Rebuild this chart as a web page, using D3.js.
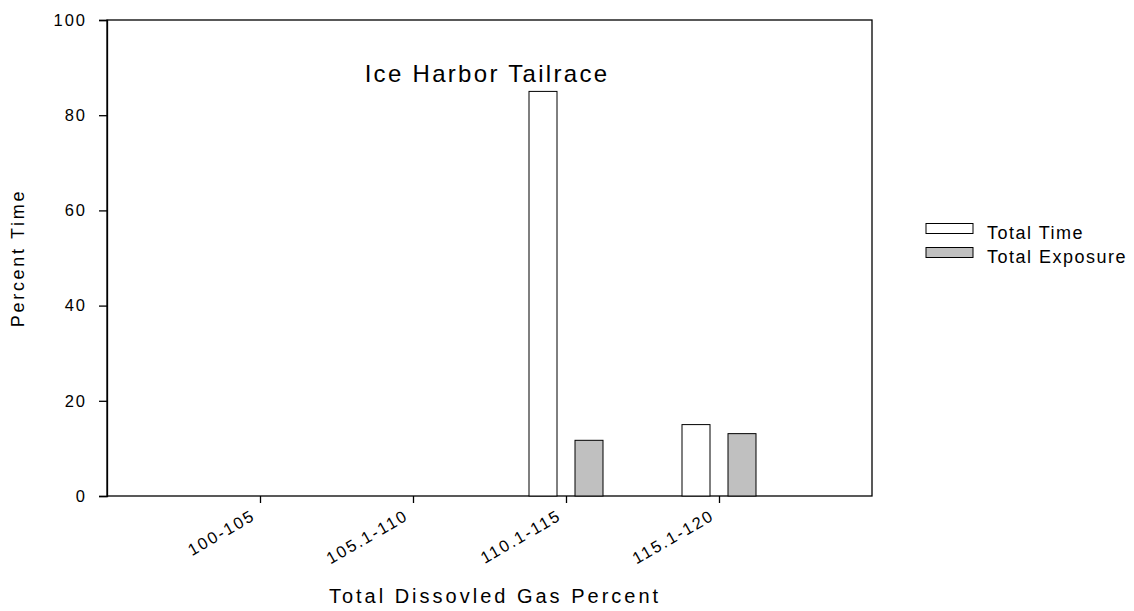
<!DOCTYPE html>
<html><head><meta charset="utf-8">
<script src="https://cdn.jsdelivr.net/npm/d3@7"></script>
<style>body{margin:0;background:#fff;} text{font-family:Arial,"Liberation Sans",sans-serif;}</style>
</head><body><svg id="c" width="1134" height="611"></svg>
<script>
const categories = ["100-105","105.1-110","110.1-115","115.1-120"];
const totalTime = [0, 0, 85, 15];
const totalExposure = [0, 0, 11.7, 13.1];
const yTicks = [0,20,40,60,80,100];
const seriesNames = ["Total Time","Total Exposure"];
const seriesColors = ["#ffffff","#c0c0c0"];

const svg = d3.select("#c");
const L=107, R=872, T=20, B=496;
const x = d3.scalePoint().domain(categories).range([L,R]).padding(1);
const y = d3.scaleLinear().domain([0,100]).range([B,T]);

// frame
svg.append("rect").attr("x",L).attr("y",T).attr("width",R-L).attr("height",B-T)
  .attr("fill","none").attr("stroke","#000").attr("stroke-width",1.3);

const series = [totalTime,totalExposure];
const offs = [-23, 23], bw = 28;
series.forEach((s,si)=>{
  svg.append("g").selectAll("rect").data(categories.map((c,i)=>({c,v:s[i]})).filter(d=>d.v>0))
    .join("rect")
    .attr("x",d=>x(d.c)+offs[si]-bw/2).attr("width",bw)
    .attr("y",d=>y(d.v)).attr("height",d=>B-y(d.v))
    .attr("fill",seriesColors[si]).attr("stroke","#000").attr("stroke-width",1);
});

// y axis
const ya = svg.append("g").attr("transform",`translate(${L},0)`)
  .call(d3.axisLeft(y).tickValues(yTicks).tickSize(8).tickPadding(10));
ya.select(".domain").attr("stroke-width",1.3);
ya.selectAll("line").attr("stroke-width",1.3);
ya.selectAll("text").attr("font-size",16.5).attr("letter-spacing",2).attr("x",-20)
  .attr("font-family","Arial, Liberation Sans, sans-serif");

// x axis
const xa = svg.append("g").attr("transform",`translate(0,${B})`)
  .call(d3.axisBottom(x).tickSize(7).tickSizeOuter(0));
xa.select(".domain").remove();
xa.selectAll("line").attr("stroke-width",1.3);
xa.selectAll("text").attr("font-size",16.5).attr("letter-spacing",2)
  .attr("font-family","Arial, Liberation Sans, sans-serif")
  .attr("text-anchor","end").attr("dy",null).attr("y",0).attr("x",0)
  .attr("transform","translate(-4,23) rotate(-30)");

// title
svg.append("text").attr("x",487).attr("y",82).attr("text-anchor","middle")
  .attr("font-size",24).attr("letter-spacing",2.3).text("Ice Harbor Tailrace");

// axis titles
svg.append("text").attr("x",495).attr("y",603).attr("text-anchor","middle")
  .attr("font-size",20).attr("letter-spacing",3).text("Total Dissovled Gas Percent");
svg.append("text").attr("transform","translate(24,258) rotate(-90)").attr("text-anchor","middle")
  .attr("font-size",18).attr("letter-spacing",2.7).text("Percent Time");

// legend
const lg = svg.append("g");
seriesNames.forEach((n,i)=>{
  const yy = 223.5 + i*24;
  lg.append("rect").attr("x",926).attr("y",yy).attr("width",47).attr("height",10)
    .attr("fill",seriesColors[i]).attr("stroke","#000").attr("stroke-width",1);
  lg.append("text").attr("x",987).attr("y",yy+15).attr("font-size",18).attr("letter-spacing",1.5).text(n);
});
</script></body></html>
